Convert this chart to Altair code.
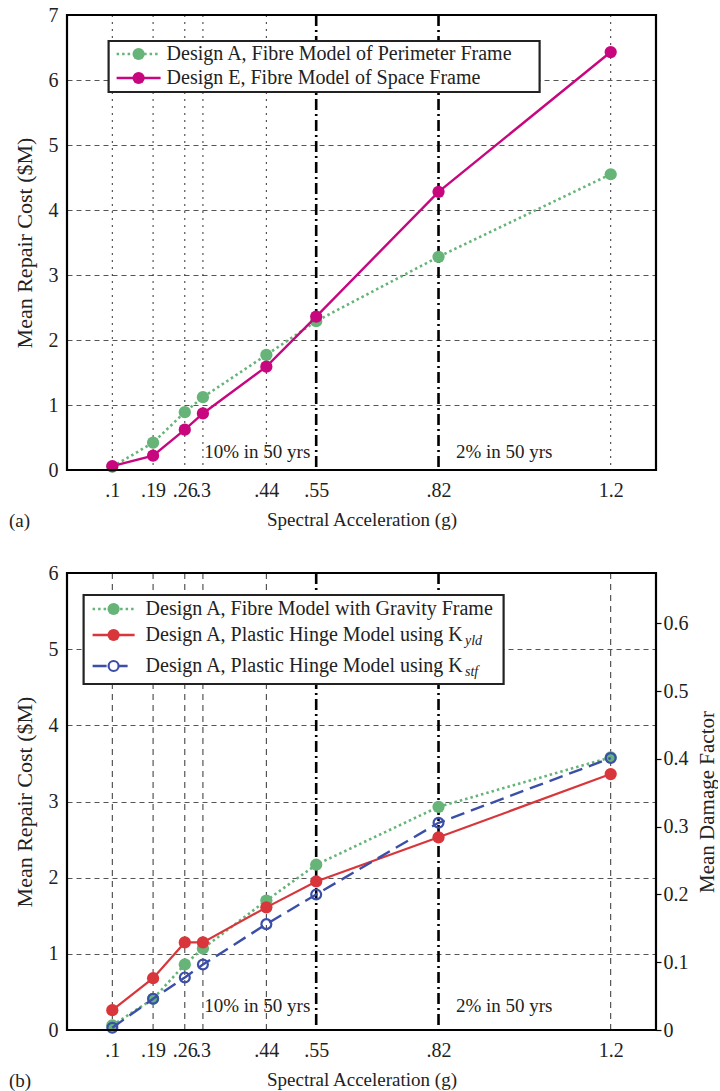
import altair as alt
import pandas as pd

# ---- shared x positions (spectral acceleration, g) ----
SA = [0.1, 0.19, 0.26, 0.3, 0.44, 0.55, 0.82, 1.2]
SA_LABELS = [".1", ".19", ".26", ".3", ".44", ".55", ".82", "1.2"]
HAZARD_SA = [0.55, 0.82]
HAZARD_TEXT = ["10% in 50 yrs", "2% in 50 yrs"]
HAZARD_TEXT_SA = [0.42, 0.965]

# ---- panel (a): mean repair cost ($M) ----
A_PERIMETER = [0.05, 0.42, 0.89, 1.12, 1.77, 2.29, 3.28, 4.55]
E_SPACE = [0.06, 0.22, 0.62, 0.87, 1.59, 2.36, 4.28, 6.43]
COST_TICKS_A = [0, 1, 2, 3, 4, 5, 6, 7]

# ---- panel (b): mean repair cost ($M) ----
A_GRAVITY = [0.06, 0.41, 0.86, 1.07, 1.70, 2.17, 2.93, 3.58]
A_KYLD = [0.26, 0.68, 1.15, 1.15, 1.61, 1.95, 2.53, 3.36]
A_KSTF = [0.03, 0.41, 0.69, 0.86, 1.39, 1.78, 2.72, 3.57]
COST_TICKS_B = [0, 1, 2, 3, 4, 5, 6]
DAMAGE_TICKS = [0, 0.1, 0.2, 0.3, 0.4, 0.5, 0.6]
REPLACEMENT_COST = 8.9  # $M; repair cost / replacement cost = damage factor

FONT = "Liberation Serif"
INK = "#222222"
GREEN = "#66b478"
MAGENTA = "#c8067e"
RED = "#d8363b"
BLUE = "#3b4ea8"

W = 589
H_A = 455
H_B = 457

label_expr = " : ".join(
    f"datum.value == {v} ? '{t}'" for v, t in zip(SA, SA_LABELS)
) + " : ''"

one_row = pd.DataFrame({"k": [0]})


def x_enc():
    return alt.X(
        "sa:Q",
        scale=alt.Scale(domain=[0, 1.3], nice=False, zero=False),
        axis=alt.Axis(
            values=SA, labelExpr=label_expr, grid=False, ticks=False, domain=False,
            labelFont=FONT, labelFontSize=20, labelColor=INK, labelPadding=10,
            labelOverlap=False, labelFlush=False,
            titleFont=FONT, titleFontSize=19, titleColor=INK,
            titleFontWeight="normal", titlePadding=10,
        ),
        title="Spectral Acceleration (g)",
    )


def y_enc(top, ticks):
    return alt.Y(
        "cost:Q",
        scale=alt.Scale(domain=[0, top], nice=False),
        axis=alt.Axis(
            values=ticks, grid=True, gridDash=[5, 4], gridColor="#555555",
            gridWidth=1.1, ticks=False, domain=False,
            labelFont=FONT, labelFontSize=20, labelColor=INK, labelPadding=9,
            titleFont=FONT, titleFontSize=22, titleColor=INK,
            titleFontWeight="normal", titlePadding=12,
        ),
        title="Mean Repair Cost ($M)",
    )


def grid_rules(dash, h):
    plain = [v for v in SA if v not in HAZARD_SA]
    base_plain = alt.Chart(pd.DataFrame({"sa": plain}))
    base_haz = alt.Chart(pd.DataFrame({"sa": HAZARD_SA}))
    thin = base_plain.mark_rule(color="#333333", strokeWidth=1, strokeDash=dash).encode(
        x=x_enc(), y=alt.value(0), y2=alt.value(h)
    )
    heavy = base_haz.mark_rule(color="black", strokeWidth=2.6, strokeDash=[11, 4, 2, 4]).encode(
        x=x_enc(), y=alt.value(0), y2=alt.value(h)
    )
    return [thin, heavy]


def series(values, color, dash, width, top, ticks, filled=True, size=150):
    df = pd.DataFrame({"sa": SA, "cost": values})
    base = alt.Chart(df).encode(x=x_enc(), y=y_enc(top, ticks))
    line_kw = dict(color=color, strokeWidth=width)
    if dash:
        line_kw["strokeDash"] = dash
    line = base.mark_line(**line_kw)
    if filled:
        pts = base.mark_point(filled=True, color=color, size=size, opacity=1)
    else:
        pts = base.mark_point(filled=False, color=color, size=size * 0.65,
                              strokeWidth=2.2, opacity=1)
    return [line, pts]


def hazard_labels(top, ticks, y_val):
    df = pd.DataFrame({"sa": HAZARD_TEXT_SA, "cost": [y_val] * 2, "txt": HAZARD_TEXT})
    return [alt.Chart(df).mark_text(font=FONT, fontSize=19, color=INK, baseline="middle").encode(
        x=x_enc(), y=y_enc(top, ticks), text="txt:N"
    )]


def frame(h):
    return [alt.Chart(one_row).mark_rect(fill=None, stroke="black", strokeWidth=2.2).encode(
        x=alt.value(0), x2=alt.value(W), y=alt.value(0), y2=alt.value(h)
    )]


def legend(box, rows, line_x, text_x):
    x1, y1, x2, y2 = box
    layers = [alt.Chart(one_row).mark_rect(fill="white", stroke=INK, strokeWidth=2.2).encode(
        x=alt.value(x1), x2=alt.value(x2), y=alt.value(y1), y2=alt.value(y2)
    )]
    for ry, color, dash, filled, text, sub, sub_x in rows:
        kw = dict(color=color, strokeWidth=2.6)
        if dash:
            kw["strokeDash"] = dash
        layers.append(alt.Chart(one_row).mark_rule(**kw).encode(
            x=alt.value(line_x[0]), x2=alt.value(line_x[1]), y=alt.value(ry)
        ))
        cx = (line_x[0] + line_x[1]) / 2
        if filled:
            pt = alt.Chart(one_row).mark_point(filled=True, color=color, size=150, opacity=1)
        else:
            pt = alt.Chart(one_row).mark_point(filled=True, fill="white", stroke=color,
                                               strokeWidth=2.2, size=100, opacity=1)
        layers.append(pt.encode(x=alt.value(cx), y=alt.value(ry)))
        layers.append(alt.Chart(one_row).mark_text(
            text=text, font=FONT, fontSize=20, color=INK, align="left", baseline="middle"
        ).encode(x=alt.value(text_x), y=alt.value(ry)))
        if sub:
            layers.append(alt.Chart(one_row).mark_text(
                text=sub, font=FONT, fontSize=14, fontStyle="italic", color=INK,
                align="left", baseline="middle", dy=6
            ).encode(x=alt.value(sub_x), y=alt.value(ry)))
    return layers


def panel_tag(tag, h):
    return [alt.Chart(one_row).mark_text(
        text=tag, font=FONT, fontSize=19, color=INK, align="left", baseline="middle"
    ).encode(x=alt.value(-58), y=alt.value(h + 51))]


# ---- panel (a) ----
top_layers = (
    grid_rules([2, 5], H_A)
    + series(A_PERIMETER, GREEN, [2.5, 3], 2.6, 7, COST_TICKS_A)
    + series(E_SPACE, MAGENTA, None, 2.4, 7, COST_TICKS_A)
    + hazard_labels(7, COST_TICKS_A, 0.28)
    + legend(
        (41.6, 26, 472.6, 77),
        [
            (39, GREEN, [2.5, 3], True, "Design A, Fibre Model of Perimeter Frame", None, 0),
            (63, MAGENTA, None, True, "Design E, Fibre Model of Space Frame", None, 0),
        ],
        (49.6, 93.6), 99.6,
    )
    + frame(H_A)
    + panel_tag("(a)", H_A)
)
chart_a = alt.layer(*top_layers).properties(width=W, height=H_A)

# ---- panel (b) ----
main_b = alt.layer(
    *(
        grid_rules([6, 5], H_B)
        + series(A_GRAVITY, GREEN, [2.5, 3], 2.6, 6, COST_TICKS_B)
        + series(A_KYLD, RED, None, 2.2, 6, COST_TICKS_B)
        + series(A_KSTF, BLUE, [14, 7], 2.4, 6, COST_TICKS_B, filled=False)
        + hazard_labels(6, COST_TICKS_B, 0.31)
        + legend(
            (16.6, 22, 436.6, 111),
            [
                (36, GREEN, [2.5, 3], True, "Design A, Fibre Model with Gravity Frame", None, 0),
                (62, RED, None, True, "Design A, Plastic Hinge Model using K", "yld", 398),
                (93, BLUE, [14, 7], False, "Design A, Plastic Hinge Model using K", "stf", 398),
            ],
            (25.6, 67.6), 78.6,
        )
        + frame(H_B)
        + panel_tag("(b)", H_B)
    )
)

damage_axis = alt.Chart(pd.DataFrame({"dmg": DAMAGE_TICKS})).mark_point(opacity=0).encode(
    y=alt.Y(
        "dmg:Q",
        scale=alt.Scale(domain=[0, 6 / REPLACEMENT_COST], nice=False),
        axis=alt.Axis(
            orient="right", values=DAMAGE_TICKS, format="~g", grid=False,
            ticks=True, tickSize=5, tickColor="black", tickWidth=1.2, domain=False,
            labelFont=FONT, labelFontSize=20, labelColor=INK, labelPadding=2,
            titleFont=FONT, titleFontSize=21, titleColor=INK,
            titleFontWeight="normal", titlePadding=8, titleAngle=270,
            titleBaseline="top",
        ),
        title="Mean Damage Factor",
    )
)

chart_b = alt.layer(main_b, damage_axis).resolve_scale(y="independent").properties(
    width=W, height=H_B
)

chart = (
    alt.vconcat(chart_a, chart_b, spacing=30)
    .properties(padding={"left": 8, "top": 4, "right": 0, "bottom": 0})
    .configure_view(stroke=None)
    .configure(background="white")
)

chart.save("out.html", embed_options={"renderer": "svg", "actions": False})
